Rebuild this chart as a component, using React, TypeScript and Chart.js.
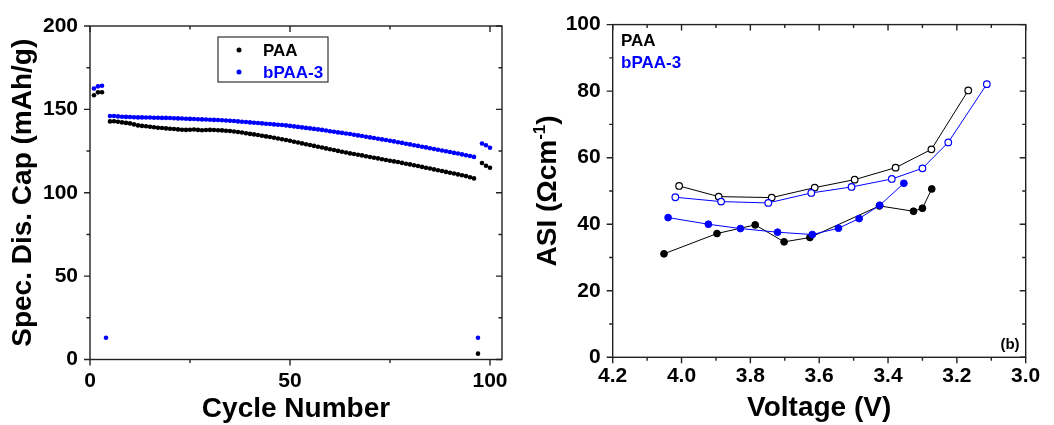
import React, { useEffect, useRef } from "react";
import { Chart, registerables } from "chart.js";

Chart.register(...registerables);

const FONT = '"Liberation Sans", Arial, Helvetica, sans-serif';
const BLUE = "#0000ff";
const BLACK = "#000000";
const AXIS = "#222222";

// ---------- Left panel: capacity vs cycle ----------
const cycleNumbers = Array.from({ length: 100 }, (_, i) => i + 1);

const paaCapacity: (number | null)[] = [
  158.5, 160.2, 160.3, null, 142.8, 142.9, 142.6, 142.2, 141.9, 141.6,
  141.0, 140.4, 140.1, 139.9, 139.6, 139.3, 139.0, 138.8, 138.6, 138.4,
  138.2, 138.0, 137.8, 137.7, 137.8, 137.9, 137.7, 137.5, 137.6, 137.7,
  137.6, 137.5, 137.4, 137.2, 137.0, 136.7, 136.4, 136.1, 135.7, 135.3,
  135.0, 134.6, 134.2, 133.8, 133.4, 133.0, 132.5, 132.1, 131.6, 131.2,
  130.6, 130.1, 129.6, 129.1, 128.6, 128.1, 127.6, 127.1, 126.6, 126.1,
  125.6, 125.1, 124.6, 124.1, 123.6, 123.2, 122.8, 122.4, 121.9, 121.4,
  121.0, 120.6, 120.1, 119.6, 119.2, 118.8, 118.4, 117.9, 117.4, 117.0,
  116.5, 116.0, 115.5, 115.0, 114.5, 114.0, 113.5, 113.0, 112.5, 112.0,
  111.5, 111.0, 110.5, 110.0, 109.3, 108.6, 3.5, 117.8, 116.2, 115.0,
];

const bpaaCapacity: (number | null)[] = [
  162.5, 163.8, 164.2, 13.0, 146.0, 146.0, 145.8, 145.6, 145.5, 145.4,
  145.3, 145.2, 145.2, 145.1, 145.1, 145.0, 145.0, 144.9, 144.9, 144.8,
  144.7, 144.6, 144.5, 144.4, 144.3, 144.2, 144.1, 144.0, 143.9, 143.8,
  143.7, 143.6, 143.5, 143.3, 143.2, 143.0, 142.8, 142.6, 142.4, 142.2,
  142.0, 141.8, 141.6, 141.4, 141.2, 141.0, 140.8, 140.6, 140.4, 140.1,
  139.8, 139.5, 139.2, 138.9, 138.6, 138.3, 138.0, 137.7, 137.3, 136.9,
  136.6, 136.2, 135.9, 135.5, 135.2, 134.8, 134.4, 134.0, 133.6, 133.2,
  132.8, 132.4, 132.0, 131.6, 131.2, 130.8, 130.3, 129.9, 129.4, 129.0,
  128.5, 128.1, 127.6, 127.2, 126.7, 126.2, 125.8, 125.3, 124.9, 124.4,
  123.9, 123.5, 123.0, 122.5, 122.0, 121.5, 13.0, 129.5, 128.5, 127.0,
];

const capXMajor = [0, 50, 100];
const capXMinor = [25, 75];
const capYMajor = [0, 50, 100, 150, 200];
const capYMinor = [25, 75, 125, 175];

// ---------- Right panel: ASI vs voltage ----------
const paaOpenV = [4.007, 3.892, 3.738, 3.613, 3.497, 3.378, 3.274, 3.167];
const paaOpenASI = [51.5, 48.3, 48.0, 51.0, 53.4, 57.0, 62.5, 80.2];
const bpaaOpenV = [4.018, 3.885, 3.748, 3.623, 3.506, 3.389, 3.3, 3.225, 3.113];
const bpaaOpenASI = [48.1, 46.8, 46.4, 49.4, 51.2, 53.6, 56.8, 64.6, 82.1];
const paaFilledV = [4.051, 3.897, 3.786, 3.702, 3.627, 3.425, 3.326, 3.3, 3.273];
const paaFilledASI = [31.1, 37.2, 39.8, 34.7, 36.0, 45.5, 43.9, 44.8, 50.6];
const bpaaFilledV = [4.039, 3.922, 3.829, 3.721, 3.62, 3.544, 3.484, 3.424, 3.354];
const bpaaFilledASI = [42.0, 40.0, 38.7, 37.6, 36.9, 38.8, 41.7, 45.7, 52.3];

const asiXMajor = [4.2, 4.0, 3.8, 3.6, 3.4, 3.2, 3.0];
const asiXMinor = [4.1, 3.9, 3.7, 3.5, 3.3, 3.1];
const asiYMajor = [0, 20, 40, 60, 80, 100];
const asiYMinor = [10, 30, 50, 70, 90];

const seriesNames = ["PAA", "bPAA-3"];

const zip = (xs: number[], ys: (number | null)[]) => xs.map((x, i) => ({ x, y: ys[i] }));

// ---------- plugins ----------
const frameTicksPlugin = {
  id: "frameTicks",
  afterDraw(chart: any, _args: any, opts: any) {
    const { ctx, chartArea: a, scales } = chart;
    const xs = scales.x;
    const ys = scales.y;
    ctx.save();
    ctx.strokeStyle = AXIS;
    ctx.lineWidth = 1.4;
    ctx.beginPath();
    const xt = (vals: number[], len: number) => {
      vals.forEach((v) => {
        const p = xs.getPixelForValue(v);
        ctx.moveTo(p, a.bottom);
        ctx.lineTo(p, a.bottom + len);
        ctx.moveTo(p, a.top);
        ctx.lineTo(p, a.top + len);
      });
    };
    const yt = (vals: number[], len: number) => {
      vals.forEach((v) => {
        const p = ys.getPixelForValue(v);
        ctx.moveTo(a.left, p);
        ctx.lineTo(a.left - len, p);
        ctx.moveTo(a.right, p);
        ctx.lineTo(a.right - len, p);
      });
    };
    xt(opts.xMajor || [], 6);
    xt(opts.xMinor || [], 3.5);
    yt(opts.yMajor || [], 6);
    yt(opts.yMinor || [], 3.5);
    ctx.stroke();
    ctx.strokeRect(a.left, a.top, a.right - a.left, a.bottom - a.top);
    ctx.restore();
  },
};

const capLegendPlugin = {
  id: "capLegend",
  afterDraw(chart: any) {
    const { ctx } = chart;
    ctx.save();
    ctx.strokeStyle = "#333";
    ctx.lineWidth = 1.2;
    ctx.strokeRect(218, 37, 110, 45);
    ctx.font = `bold 17px ${FONT}`;
    ctx.textBaseline = "middle";
    ctx.textAlign = "left";
    chart.data.datasets.forEach((ds: any, i: number) => {
      const y = 50 + i * 22;
      ctx.fillStyle = ds.pointBackgroundColor;
      ctx.beginPath();
      ctx.arc(239, y, 2.5, 0, Math.PI * 2);
      ctx.fill();
      ctx.fillText(ds.label, 263, y + 1);
    });
    ctx.restore();
  },
};

const asiDecorPlugin = {
  id: "asiDecor",
  afterDraw(chart: any) {
    const { ctx, chartArea: a } = chart;
    ctx.save();
    ctx.font = `bold 17px ${FONT}`;
    ctx.textBaseline = "middle";
    ctx.textAlign = "left";
    ctx.fillStyle = BLACK;
    ctx.fillText(seriesNames[0], 101, 41);
    ctx.fillStyle = BLUE;
    ctx.fillText(seriesNames[1], 101, 63);
    ctx.fillStyle = BLACK;
    ctx.font = `bold 15px ${FONT}`;
    ctx.textAlign = "center";
    ctx.fillText("(b)", 490, 345);

    // y title with superscript
    const big = `bold 28px ${FONT}`;
    const small = `bold 17px ${FONT}`;
    const s1 = "ASI (Ωcm";
    const s2 = "-1";
    const s3 = ")";
    ctx.font = big;
    const w1 = ctx.measureText(s1).width;
    const w3 = ctx.measureText(s3).width;
    ctx.font = small;
    const w2 = ctx.measureText(s2).width;
    const total = w1 + w2 + w3;
    const cy = (a.top + a.bottom) / 2;
    ctx.translate(26, cy);
    ctx.rotate(-Math.PI / 2);
    ctx.textAlign = "left";
    ctx.textBaseline = "alphabetic";
    let x = -total / 2;
    ctx.font = big;
    ctx.fillText(s1, x, 10);
    x += w1;
    ctx.font = small;
    ctx.fillText(s2, x, -1);
    x += w2;
    ctx.font = big;
    ctx.fillText(s3, x, 10);
    ctx.restore();
  },
};

const tickFont = { family: FONT, size: 21, weight: "bold" as const };
const titleFont = { family: FONT, size: 28, weight: "bold" as const, lineHeight: 1 };

function majorTicks(vals: number[]) {
  return (s: any) => {
    s.ticks = vals.map((v) => ({ value: v }));
  };
}

export default function App() {
  const leftRef = useRef<HTMLCanvasElement>(null);
  const rightRef = useRef<HTMLCanvasElement>(null);

  useEffect(() => {
    const left = new Chart(leftRef.current!, {
      type: "scatter",
      data: {
        datasets: [
          {
            label: seriesNames[0],
            data: zip(cycleNumbers, paaCapacity),
            pointBackgroundColor: BLACK,
            pointBorderColor: BLACK,
            backgroundColor: BLACK,
            pointRadius: 2.3,
            pointBorderWidth: 0,
            showLine: false,
          },
          {
            label: seriesNames[1],
            data: zip(cycleNumbers, bpaaCapacity),
            pointBackgroundColor: BLUE,
            pointBorderColor: BLUE,
            backgroundColor: BLUE,
            pointRadius: 2.3,
            pointBorderWidth: 0,
            showLine: false,
          },
        ],
      },
      options: {
        animation: false,
        responsive: false,
        maintainAspectRatio: false,
        layout: { padding: { top: 26, right: 18, left: 0, bottom: 0 } },
        plugins: {
          legend: { display: false },
          tooltip: { enabled: false },
          frameTicks: { xMajor: capXMajor, xMinor: capXMinor, yMajor: capYMajor, yMinor: capYMinor },
        } as any,
        scales: {
          x: {
            type: "linear",
            min: 0,
            max: 103,
            grid: { display: false, drawTicks: false },
            border: { display: false },
            ticks: { font: tickFont, color: BLACK, padding: 9, maxRotation: 0 },
            afterBuildTicks: majorTicks(capXMajor),
            afterFit: (s: any) => {
              s.height = 65.5;
            },
            title: { display: true, text: "Cycle Number", color: BLACK, font: titleFont, padding: { top: 0, bottom: 2 } },
          },
          y: {
            type: "linear",
            min: 0,
            max: 200,
            grid: { display: false, drawTicks: false },
            border: { display: false },
            ticks: { font: tickFont, color: BLACK, padding: 12 },
            afterBuildTicks: majorTicks(capYMajor),
            afterFit: (s: any) => {
              s.width = 90;
            },
            title: { display: true, text: "Spec. Dis. Cap (mAh/g)", color: BLACK, font: titleFont, padding: { top: 9, bottom: 0 } },
          },
        },
      },
      plugins: [frameTicksPlugin, capLegendPlugin],
    });

    const openStyle = (color: string) => ({
      borderColor: color,
      borderWidth: 1,
      pointBackgroundColor: "#ffffff",
      pointBorderColor: color,
      pointBorderWidth: 1.2,
      pointRadius: 3.3,
      showLine: true,
      fill: false,
      tension: 0,
    });
    const filledStyle = (color: string) => ({
      borderColor: color,
      borderWidth: 1,
      pointBackgroundColor: color,
      pointBorderColor: color,
      pointBorderWidth: 1,
      pointRadius: 3.4,
      showLine: true,
      fill: false,
      tension: 0,
    });

    const right = new Chart(rightRef.current!, {
      type: "line",
      data: {
        datasets: [
          { label: seriesNames[1] + " filled", data: zip(bpaaFilledV, bpaaFilledASI), ...filledStyle(BLUE) },
          { label: seriesNames[0] + " filled", data: zip(paaFilledV, paaFilledASI), ...filledStyle(BLACK) },
          { label: seriesNames[1] + " open", data: zip(bpaaOpenV, bpaaOpenASI), ...openStyle(BLUE) },
          { label: seriesNames[0] + " open", data: zip(paaOpenV, paaOpenASI), ...openStyle(BLACK) },
        ] as any,
      },
      options: {
        animation: false,
        responsive: false,
        maintainAspectRatio: false,
        layout: { padding: { top: 16.7, right: 28.3, left: 0, bottom: 0 } },
        plugins: {
          legend: { display: false },
          tooltip: { enabled: false },
          frameTicks: { xMajor: asiXMajor, xMinor: asiXMinor, yMajor: asiYMajor, yMinor: asiYMinor },
        } as any,
        scales: {
          x: {
            type: "linear",
            min: 3.0,
            max: 4.2,
            reverse: true,
            grid: { display: false, drawTicks: false },
            border: { display: false },
            ticks: {
              font: tickFont,
              color: BLACK,
              padding: 6,
              maxRotation: 0,
              callback: (v: any) => Number(v).toFixed(1),
            },
            afterBuildTicks: majorTicks(asiXMajor),
            afterFit: (s: any) => {
              s.height = 67.7;
            },
            title: { display: true, text: "Voltage (V)", color: BLACK, font: titleFont, padding: { top: 0, bottom: 3 } },
          },
          y: {
            type: "linear",
            min: 0,
            max: 100,
            grid: { display: false, drawTicks: false },
            border: { display: false },
            ticks: { font: tickFont, color: BLACK, padding: 12 },
            afterBuildTicks: majorTicks(asiYMajor),
            afterFit: (s: any) => {
              s.width = 92.7;
            },
            title: { display: false },
          },
        },
      },
      plugins: [frameTicksPlugin, asiDecorPlugin],
    });

    return () => {
      left.destroy();
      right.destroy();
    };
  }, []);

  return (
    <div style={{ position: "absolute", left: 0, top: 0, width: 1054, height: 425, background: "#fff" }}>
      <canvas ref={leftRef} width={520} height={425} style={{ position: "absolute", left: 0, top: 0, width: 520, height: 425 }} />
      <canvas ref={rightRef} width={534} height={425} style={{ position: "absolute", left: 520, top: 0, width: 534, height: 425 }} />
    </div>
  );
}
